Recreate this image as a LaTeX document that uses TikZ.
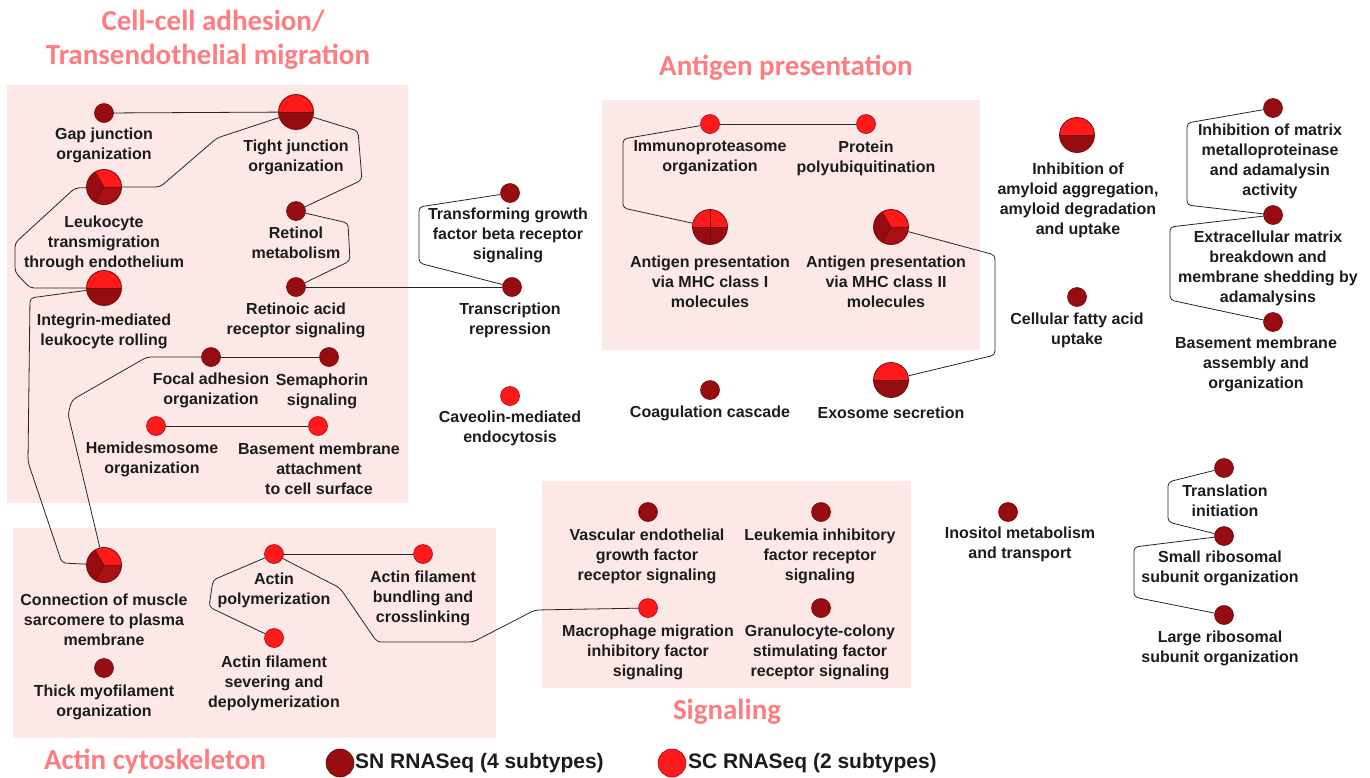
\documentclass[tikz,border=0pt]{standalone}
\usepackage{fontspec}
\setmainfont{Liberation Sans}
\newfontfamily\titlefont{Carlito}

\definecolor{snred}{RGB}{150,12,16}
\definecolor{snred2}{RGB}{168,16,20}
\definecolor{scred}{RGB}{255,26,26}
\definecolor{rimred}{RGB}{112,8,10}
\definecolor{boxpink}{RGB}{252,233,231}
\definecolor{titlepink}{RGB}{255,124,128}
\definecolor{inkgray}{RGB}{28,28,28}

\tikzset{
  sn/.style={circle, fill=snred, draw=rimred, line width=0.6pt, minimum size=19pt, inner sep=0pt},
  sc/.style={circle, fill=scred, draw=rimred!70!scred, line width=0.6pt, minimum size=19pt, inner sep=0pt},
  bignode/.style={circle, fill=snred, draw=rimred, line width=0.7pt, minimum size=35pt, inner sep=0pt},
  slice/.style={draw=rimred, line width=0.5pt},
  % two halves: SC on top, SN below
  pietwo/.style={bignode, path picture={
      \fill[scred] (path picture bounding box.west) rectangle (path picture bounding box.north east);
      \draw[slice] (path picture bounding box.west) -- (path picture bounding box.east);}},
  % three slices, SC from 0 to 120 degrees
  piethree/.style={bignode, path picture={
      \fill[scred] (path picture bounding box.center) -- +(0:40pt) -- +(60:40pt) -- +(120:40pt) -- cycle;
      \fill[snred2] (path picture bounding box.center) -- +(240:40pt) -- +(300:40pt) -- +(360:40pt) -- cycle;
      \draw[slice] (path picture bounding box.center) -- +(0:30pt)
                   (path picture bounding box.center) -- +(120:30pt)
                   (path picture bounding box.center) -- +(240:30pt);}},
  % four quarters, upper two SC
  piefour/.style={bignode, path picture={
      \fill[scred] (path picture bounding box.west) rectangle (path picture bounding box.north east);
      \draw[slice] (path picture bounding box.west) -- (path picture bounding box.east)
                   (path picture bounding box.north) -- (path picture bounding box.south);}},
  lbl/.style={font=\bfseries\fontsize{16}{20}\selectfont, align=center, text=inkgray, inner sep=0pt},
  group/.style={font=\titlefont\bfseries\fontsize{29}{34}\selectfont, text=titlepink, inner sep=0pt},
  keytext/.style={font=\bfseries\fontsize{21}{25}\selectfont, text=inkgray, inner sep=0pt, anchor=west},
  link/.style={draw=black!85, line width=0.8pt, rounded corners=4pt}
}

\begin{document}
\begin{tikzpicture}[x=1pt, y=-1pt]
    \useasboundingbox (0,0) rectangle (1370,777);

    % shaded groups
    \fill[boxpink] (7,85) rectangle (408,503);
    \fill[boxpink] (602,100) rectangle (980,350);
    \fill[boxpink] (13,528) rectangle (496,738);
    \fill[boxpink] (542,481) rectangle (911,688);

    \node[group] (cellt1) at (213,21) {Cell-cell adhesion/};
    \node[group] (cellt2) at (208,57) {Transendothelial migration};
    \node[group] (antigt) at (786,68) {Antigen presentation};
    \node[group] (actint) at (155,762) {Actin cytoskeleton};
    \node[group] (signt)  at (727,712) {Signaling};

    % terms found in SN only
    \foreach \n/\x/\y in {gap/104/113, retinol/296/211, retacid/296/287, focal/211/357,
                          sema/329/357, tgfb/510/193, transrep/512/287, coag/710/390,
                          fatty/1077/297, mmp/1273/108, ecm/1273/215, bmassem/1273/322,
                          inositol/1008/512, tinit/1224/468, srib/1224/536, lrib/1224/615,
                          vegf/648/512, lif/821/512, gcsf/821/608, thick/104/668}
        \node[sn] (\n) at (\x,\y) {};

    % terms found in SC only
    \foreach \n/\x/\y in {hemi/156/426, bmattach/318/426, caveolin/510/396, immuno/710/124,
                          polyub/866/124, mif/648/608, apoly/274/554, bundle/423/554, sever/274/638}
        \node[sc] (\n) at (\x,\y) {};

    % shared terms
    \node[pietwo]   (tight)    at (296,112) {};
    \node[piethree] (leuk)     at (104,187) {};
    \node[pietwo]   (integrin) at (104,288) {};
    \node[pietwo]   (exo)      at (891,380) {};
    \node[piefour]  (mhcone)   at (710,227) {};
    \node[piethree] (mhctwo)   at (891,227) {};
    \node[pietwo]   (amyloid)  at (1077,135) {};
    \node[piethree] (muscle)   at (104,565) {};

    % labels
    \node[lbl] (gap-t)      at (104,145) {Gap junction\\organization};
    \node[lbl] (tight-t)    at (296,157) {Tight junction\\organization};
    \node[lbl] (leuk-t)     at (104,243) {Leukocyte\\transmigration\\through endothelium};
    \node[lbl] (retinol-t)  at (296,243) {Retinol\\metabolism};
    \node[lbl] (integrin-t) at (104,331) {Integrin-mediated\\leukocyte rolling};
    \node[lbl] (retacid-t)  at (296,320) {Retinoic acid\\receptor signaling};
    \node[lbl] (focal-t)    at (211,390) {Focal adhesion\\organization};
    \node[lbl] (sema-t)     at (322,391) {Semaphorin\\signaling};
    \node[lbl] (hemi-t)     at (152,459) {Hemidesmosome\\organization};
    \node[lbl] (bmattach-t) at (319,469) {Basement membrane\\attachment\\to cell surface};
    \node[lbl] (tgfb-t)     at (508,235) {Transforming growth\\factor beta receptor\\signaling};
    \node[lbl] (transrep-t) at (510,320) {Transcription\\repression};
    \node[lbl] (caveolin-t) at (510,428) {Caveolin-mediated\\endocytosis};
    \node[lbl] (coag-t)     at (710,413) {Coagulation cascade};
    \node[lbl] (exo-t)      at (891,413) {Exosome secretion};
    \node[lbl] (immuno-t)   at (710,158) {Immunoproteasome\\organization};
    \node[lbl] (polyub-t)   at (866,158) {Protein\\polyubiquitination};
    \node[lbl] (mhcone-t)   at (710,282) {Antigen presentation\\via MHC class I\\molecules};
    \node[lbl] (mhctwo-t)   at (886,282) {Antigen presentation\\via MHC class II\\molecules};
    \node[lbl] (amyloid-t)  at (1078,200) {Inhibition of\\amyloid aggregation,\\amyloid degradation\\and uptake};
    \node[lbl] (fatty-t)    at (1077,330) {Cellular fatty acid\\uptake};
    \node[lbl] (mmp-t)      at (1270,161) {Inhibition of matrix\\metalloproteinase\\and adamalysin\\activity};
    \node[lbl] (ecm-t)      at (1268,268) {Extracellular matrix\\breakdown and\\membrane shedding by\\adamalysins};
    \node[lbl] (bmassem-t)  at (1256,364) {Basement membrane\\assembly and\\organization};
    \node[lbl] (inositol-t) at (1020,544) {Inositol metabolism\\and transport};
    \node[lbl] (tinit-t)    at (1225,501) {Translation\\initiation};
    \node[lbl] (srib-t)     at (1220,568) {Small ribosomal\\subunit organization};
    \node[lbl] (lrib-t)     at (1220,648) {Large ribosomal\\subunit organization};
    \node[lbl] (vegf-t)     at (647,556) {Vascular endothelial\\growth factor\\receptor signaling};
    \node[lbl] (lif-t)      at (820,556) {Leukemia inhibitory\\factor receptor\\signaling};
    \node[lbl] (mif-t)      at (648,652) {Macrophage migration\\inhibitory factor\\signaling};
    \node[lbl] (gcsf-t)     at (820,652) {Granulocyte-colony\\stimulating factor\\receptor signaling};
    \node[lbl] (muscle-t)   at (104,620) {Connection of muscle\\sarcomere to plasma\\membrane};
    \node[lbl] (thick-t)    at (104,702) {Thick myofilament\\organization};
    \node[lbl] (apoly-t)    at (274,590) {Actin\\polymerization};
    \node[lbl] (bundle-t)   at (423,598) {Actin filament\\bundling and\\crosslinking};
    \node[lbl] (sever-t)    at (274,683) {Actin filament\\severing and\\depolymerization};

    % edges
    \draw[link] (gap) -- (tight);
    \draw[link] (leuk) -- (160,187) -- (217,138) -- (tight);
    \draw[link] (leuk) -- (75,188) -- (15,243) -- (15,272) -- (30,288) -- (integrin);
    \draw[link] (tight) -- (358,131) -- (362,180) -- (retinol);
    \draw[link] (retinol) -- (348,223) -- (350,261) -- (retacid);
    \draw[link] (retacid) -- (transrep);
    \draw[link] (tgfb) -- (419,207) -- (419,263) -- (transrep);
    \draw[link] (integrin) -- (30,298) -- (28,462) -- (62,563) -- (muscle);
    \draw[link] (focal) -- (147,357) -- (72,400) -- (68,414) -- (muscle);
    \draw[link] (focal) -- (sema);
    \draw[link] (hemi) -- (bmattach);
    \draw[link] (apoly) -- (bundle);
    \draw[link] (apoly) -- (213,580) -- (209,607) -- (sever);
    \draw[link] (apoly) -- (340,588) -- (377,642) -- (473,642) -- (535,610) -- (mif);
    \draw[link] (immuno) -- (polyub);
    \draw[link] (immuno) -- (623,139) -- (623,208) -- (mhcone);
    \draw[link] (mhctwo) -- (995,255) -- (995,355) -- (exo);
    \draw[link] (mmp) -- (1187,123) -- (1187,205) -- (ecm);
    \draw[link] (ecm) -- (1170,227) -- (1170,300) -- (bmassem);
    \draw[link] (tinit) -- (1168,482) -- (1168,522) -- (srib);
    \draw[link] (srib) -- (1134,547) -- (1134,597) -- (lrib);

    % key
    \node[sn, minimum size=28pt] (snkey) at (340,763) {};
    \node[keytext] (snkey-t) at (355,763) {SN RNASeq (4 subtypes)};
    \node[sc, minimum size=28pt] (sckey) at (672,763) {};
    \node[keytext] (sckey-t) at (688,763) {SC RNASeq (2 subtypes)};
\end{tikzpicture}
\end{document}
